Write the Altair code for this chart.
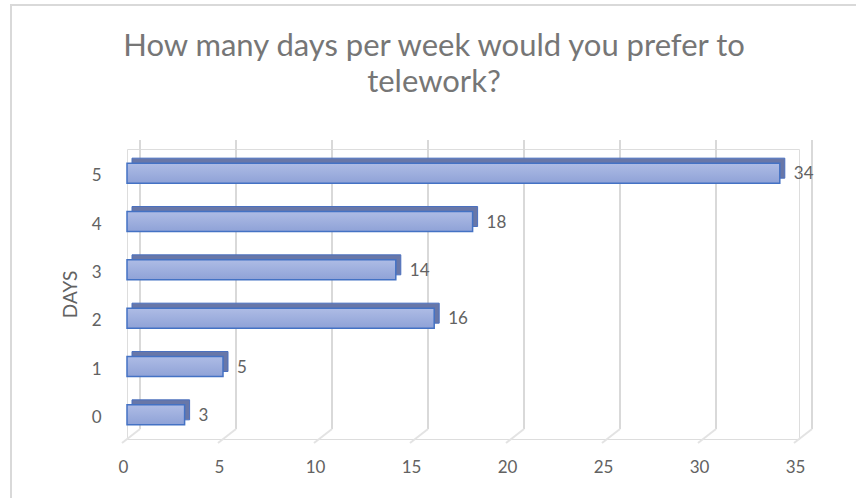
import altair as alt
import pandas as pd

# ---- data ----
days = ["5", "4", "3", "2", "1", "0"]
counts = [34, 18, 14, 16, 5, 3]
tick_values = [0, 5, 10, 15, 20, 25, 30, 35]
title_lines = ["How many days per week would you prefer to", "telework?"]
y_title = "DAYS"

bars = pd.DataFrame({"days": days, "count": counts})
grid = pd.DataFrame({"v": tick_values})

FONT = "Lato"
GREY = "#626262"
W, H = 672, 290

xs = alt.Scale(domain=[0, 35], nice=False, zero=True)
ys = alt.Scale(domain=days, paddingInner=0, paddingOuter=0)

x_axis = alt.Axis(
    values=tick_values, grid=False, domain=False, ticks=False, title=None,
    labelPadding=20, labelOffset=-4, labelFlush=False, labelFontSize=17,
    labelColor=GREY, labelFont=FONT)
y_axis = alt.Axis(
    title=y_title, domain=False, ticks=False, grid=False,
    labelPadding=26, labelOffset=3, labelFontSize=17, labelColor=GREY,
    labelFont=FONT, labelAngle=0, titleFontSize=19, titleColor=GREY,
    titleFont=FONT, titleFontWeight="normal", titlePadding=11)

X = alt.X("count:Q", scale=xs, axis=x_axis, title=None)
Y = alt.Y("days:N", scale=ys, sort=days, axis=y_axis, title=y_title)

# back-wall gridlines (3D look)
grid_v = alt.Chart(grid).mark_rule(color="#d9d9d9", strokeWidth=2, xOffset=13).encode(
    x=alt.X("v:Q", scale=xs, axis=x_axis, title=None),
    y=alt.value(-9),
    y2=alt.value(280),
)
grid_d = alt.Chart(grid).mark_rule(color="#e3e3e3", strokeWidth=2, xOffset=13, x2Offset=-5).encode(
    x=alt.X("v:Q", scale=xs, axis=x_axis, title=None),
    x2=alt.X2("v:Q"),
    y=alt.value(280),
    y2=alt.value(294),
)

# depth (top + side faces)
depth = alt.Chart(bars).mark_bar(
    size=20, color="#6877a8", stroke="#4a70bf", strokeWidth=1,
    xOffset=5, x2Offset=5, yOffset=-5, y2Offset=-5,
).encode(x=X, y=Y)

front = alt.Chart(bars).mark_bar(
    size=20,
    stroke="#4472c4",
    strokeWidth=1.5,
    color=alt.Gradient(
        gradient="linear",
        stops=[alt.GradientStop(color="#aebce5", offset=0),
               alt.GradientStop(color="#8fa2d7", offset=1)],
        x1=0, x2=0, y1=0, y2=1,
    ),
).encode(x=X, y=Y)

labels = alt.Chart(bars).mark_text(
    align="left", baseline="middle", dx=14, dy=1, fontSize=17, color=GREY, font=FONT
).encode(x=X, y=Y, text="count:Q")

frame = alt.Chart(grid).mark_rect(fill=None, stroke="#d9d9d9", strokeWidth=1.5).encode(
    x=alt.value(-116), x2=alt.value(740), y=alt.value(-144), y2=alt.value(360)
)

chart = alt.layer(frame, grid_v, grid_d, depth, front, labels).properties(
    width=W,
    height=H,
    autosize=alt.AutoSizeParams(type="none"),
    padding={"left": 127, "top": 149, "right": 57, "bottom": 59},
    title=alt.TitleParams(
        text=title_lines, anchor="middle", dx=-29, offset=0, dy=95,
        fontSize=31, font=FONT, fontWeight="normal", color="#767676", lineHeight=36,
    ),
).configure_view(stroke=None).configure(background="white")

chart.save("out.html", embed_options={"renderer": "svg", "actions": False})
